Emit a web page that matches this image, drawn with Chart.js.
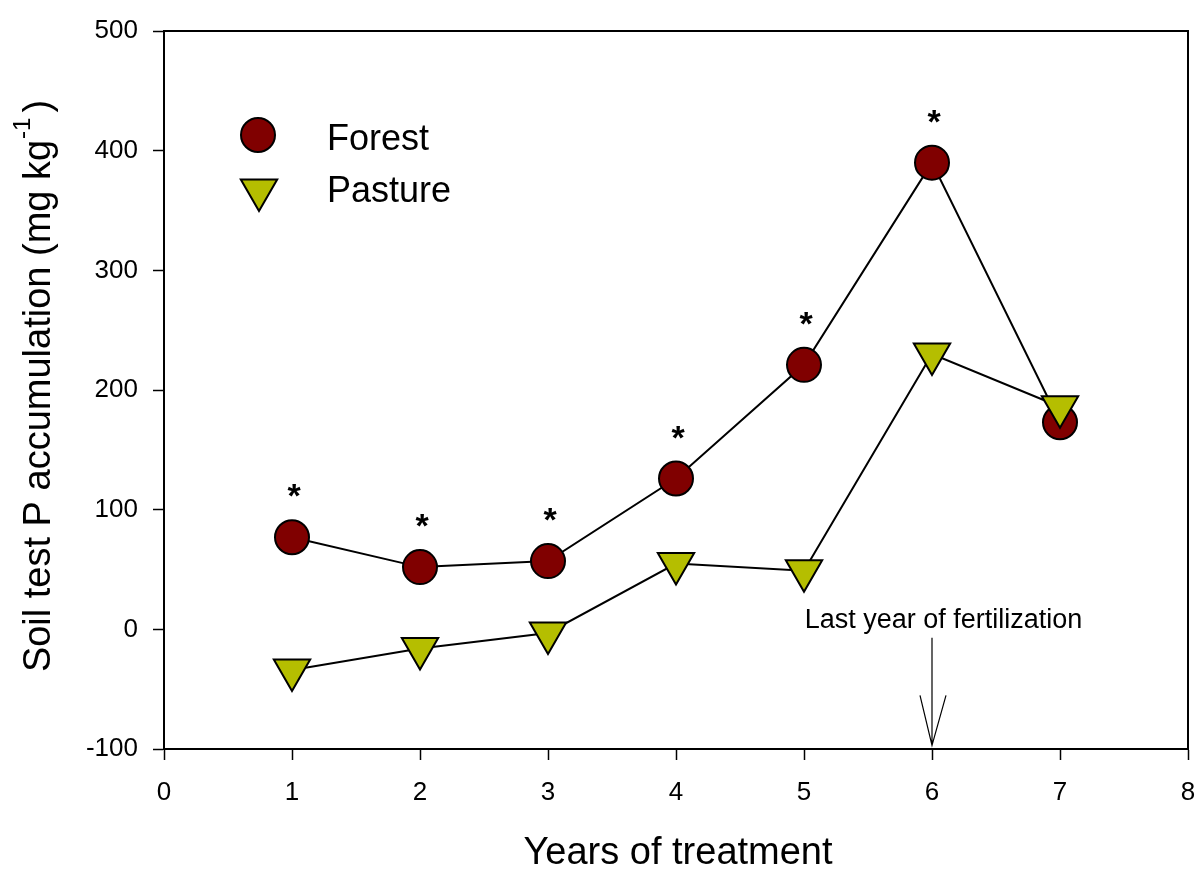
<!DOCTYPE html>
<html>
<head>
<meta charset="utf-8">
<script src="https://cdn.jsdelivr.net/npm/chart.js@4.4.1/dist/chart.umd.min.js"></script>
<style>
  html, body { margin: 0; padding: 0; background: #fff; overflow: hidden; }
  canvas { display: block; }
</style>
</head>
<body>
<canvas id="chart" width="1197" height="871"></canvas>
<script>
// --- DATA ---
const years = [1, 2, 3, 4, 5, 6, 7];
const forestP = [77, 52, 57, 126, 221, 390, 173];
const pastureP = [-34, -16, -3, 55, 49, 230, 186];
const significant = [true, true, true, true, true, true, false];
const xTicks = [0, 1, 2, 3, 4, 5, 6, 7, 8];
const yTicks = [-100, 0, 100, 200, 300, 400, 500];
const seriesNames = ['Forest', 'Pasture'];
const fertYear = 6;
const fertLabel = 'Last year of fertilization';
const xTitle = 'Years of treatment';
const yTitleMain = 'Soil test P accumulation (mg kg';
const yTitleSup = '-1';
const yTitleEnd = ')';

const FONT = "'Liberation Sans', Arial, sans-serif";
const FOREST_FILL = '#800000';
const PASTURE_FILL = '#b5be00';

// --- EXTRA DRAWING: frame, asterisks, arrow, legend, titles ---
const decorations = {
    id: 'decorations',
    afterDatasetsDraw(chart) {
        const { ctx, chartArea: area, scales } = chart;
        const xs = scales.x, ys = scales.y;
        ctx.save();

        // top and right frame lines
        ctx.strokeStyle = '#000';
        ctx.lineWidth = 2;
        ctx.beginPath();
        ctx.moveTo(area.left, area.top);
        ctx.lineTo(area.right, area.top);
        ctx.lineTo(area.right, area.bottom);
        ctx.stroke();

        // significance asterisks above forest points
        const meta = chart.getDatasetMeta(1);
        ctx.fillStyle = '#000';
        ctx.font = 'bold 34px ' + FONT;
        ctx.textAlign = 'center';
        ctx.textBaseline = 'alphabetic';
        meta.data.forEach((pt, i) => {
            if (significant[i]) ctx.fillText('*', pt.x + 2, pt.y - 30);
        });

        // fertilization arrow
        const ax = xs.getPixelForValue(fertYear);
        const aTop = ys.getPixelForValue(-7);
        const aTip = ys.getPixelForValue(-97);
        ctx.lineWidth = 1.2;
        ctx.beginPath();
        ctx.moveTo(ax, aTop);
        ctx.lineTo(ax, aTip);
        ctx.moveTo(ax - 12, aTip - 50);
        ctx.lineTo(ax, aTip);
        ctx.lineTo(ax + 14, aTip - 50);
        ctx.stroke();
        ctx.font = '27px ' + FONT;
        ctx.fillText(fertLabel, xs.getPixelForValue(fertYear + 0.09), ys.getPixelForValue(1));

        // legend
        const dsF = chart.data.datasets[1], dsP = chart.data.datasets[0];
        ctx.lineWidth = 2;
        ctx.strokeStyle = '#000';
        ctx.fillStyle = dsF.backgroundColor;
        Chart.helpers.drawPoint(ctx, { pointStyle: 'circle', radius: 17, borderWidth: 2, rotation: 0 }, 258, 135);
        ctx.fillStyle = dsP.backgroundColor;
        Chart.helpers.drawPoint(ctx, { pointStyle: 'triangle', radius: 21, borderWidth: 2, rotation: 180 }, 259, 190);
        ctx.fillStyle = '#000';
        ctx.font = '36px ' + FONT;
        ctx.textAlign = 'left';
        ctx.fillText(dsF.label, 327, 150);
        ctx.fillText(dsP.label, 327, 202);

        // x title
        ctx.font = '38px ' + FONT;
        ctx.textAlign = 'center';
        ctx.fillText(xTitle, (area.left + area.right) / 2 + 2, 864);

        // y title with superscript
        ctx.translate(50, 386);
        ctx.rotate(-Math.PI / 2);
        ctx.font = '38px ' + FONT;
        const wMain = ctx.measureText(yTitleMain).width;
        const wEnd = ctx.measureText(yTitleEnd).width;
        ctx.font = '24px ' + FONT;
        const wSup = ctx.measureText(yTitleSup).width;
        const total = wMain + wSup + 6 + wEnd;
        let x0 = -total / 2;
        ctx.textAlign = 'left';
        ctx.font = '38px ' + FONT;
        ctx.fillText(yTitleMain, x0, 0);
        ctx.font = '24px ' + FONT;
        ctx.fillText(yTitleSup, x0 + wMain + 1, -20);
        ctx.font = '38px ' + FONT;
        ctx.fillText(yTitleEnd, x0 + wMain + wSup + 6, 0);

        ctx.restore();
    }
};

// --- CHART ---
new Chart(document.getElementById('chart'), {
    type: 'line',
    data: {
        datasets: [
            {
                label: seriesNames[1],
                data: years.map((x, i) => ({ x: x, y: pastureP[i] })),
                borderColor: '#000',
                borderWidth: 2,
                backgroundColor: PASTURE_FILL,
                pointBackgroundColor: PASTURE_FILL,
                pointBorderColor: '#000',
                pointBorderWidth: 2,
                pointStyle: 'triangle',
                pointRotation: 180,
                pointRadius: 21,
                tension: 0
            },
            {
                label: seriesNames[0],
                data: years.map((x, i) => ({ x: x, y: forestP[i] })),
                borderColor: '#000',
                borderWidth: 2,
                backgroundColor: FOREST_FILL,
                pointBackgroundColor: FOREST_FILL,
                pointBorderColor: '#000',
                pointBorderWidth: 2,
                pointStyle: 'circle',
                pointRadius: 17,
                tension: 0
            }
        ]
    },
    options: {
        responsive: false,
        animation: false,
        devicePixelRatio: 1,
        layout: { autoPadding: false, padding: { top: 31, right: 9, left: 0, bottom: 0 } },
        plugins: { legend: { display: false }, tooltip: { enabled: false } },
        scales: {
            x: {
                type: 'linear', min: 0, max: 8,
                afterBuildTicks: s => { s.ticks = xTicks.map(v => ({ value: v })); },
                afterFit: s => { s.height = 122; s.paddingLeft = 0; s.paddingRight = 0; },
                grid: { display: true, drawOnChartArea: false, drawTicks: true, tickLength: 11, tickColor: '#000', tickWidth: 1.5 },
                border: { display: true, color: '#000', width: 2 },
                ticks: { color: '#000', font: { family: FONT, size: 26 }, padding: 17, maxRotation: 0, autoSkip: false }
            },
            y: {
                type: 'linear', min: -100, max: 500,
                afterBuildTicks: s => { s.ticks = yTicks.map(v => ({ value: v })); },
                afterFit: s => { s.width = 164; },
                grid: { display: true, drawOnChartArea: false, drawTicks: true, tickLength: 11, tickColor: '#000', tickWidth: 1.5 },
                border: { display: true, color: '#000', width: 2 },
                ticks: { color: '#000', font: { family: FONT, size: 26 }, padding: 15 }
            }
        }
    },
    plugins: [decorations]
});
</script>
</body>
</html>
